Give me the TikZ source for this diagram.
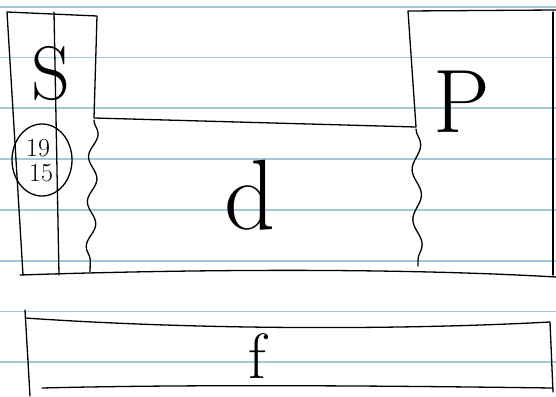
\documentclass[tikz,border=0pt]{standalone}
\usetikzlibrary{decorations.pathmorphing}
\definecolor{ruleblue}{RGB}{165,200,216}
\begin{document}
\begin{tikzpicture}[x=1pt, y=-1pt,
    pen/.style={line width=1.3pt, line cap=round, line join=round},
    wave/.style={pen, decorate, decoration={snake, segment length=#1, amplitude=4.5pt}},
    letter/.style={inner sep=0pt, font=\fontsize{#1}{#1}\selectfont}]
  \useasboundingbox (0,0) rectangle (556,396);
  \foreach \k in {0,...,7}
    \draw[ruleblue, line width=1.8pt] (0,6.7+50.8*\k) -- (556,6.7+50.8*\k);
  \draw[pen] (23,275) -- (7,12) -- (97,16) -- (94,118) -- (416,127) -- (408,11) -- (556,10);
  \draw[pen] (54,12) -- (59,275);
  \draw[pen] (553,12) -- (553,275);
  \draw[pen] (20,275) .. controls (200,269) and (400,268) .. (556,277);
  \draw[wave=45pt] (94,120) -- (90,272);
  \draw[wave=50pt] (416,129) -- (418,266);
  \draw[pen] (42,160) ellipse [x radius=30pt, y radius=36pt];
  \node[letter=76] (S) at (51,74) {S};
  \node[letter=26] (nineteen) at (38,148) {19};
  \node[letter=26] (fifteen) at (41,173) {15};
  \node[letter=90] (P) at (462,102) {P};
  \node[letter=100] (d) at (250,195) {d};
  \draw[pen] (25,310) -- (30,396);
  \draw[pen] (25,318) .. controls (200,330) and (400,330) .. (550,322) -- (553,392);
  \draw[pen] (42,388) .. controls (200,384) and (400,386) .. (553,388);
  \node[letter=64] (f) at (257,356) {f};
\end{tikzpicture}
\end{document}
